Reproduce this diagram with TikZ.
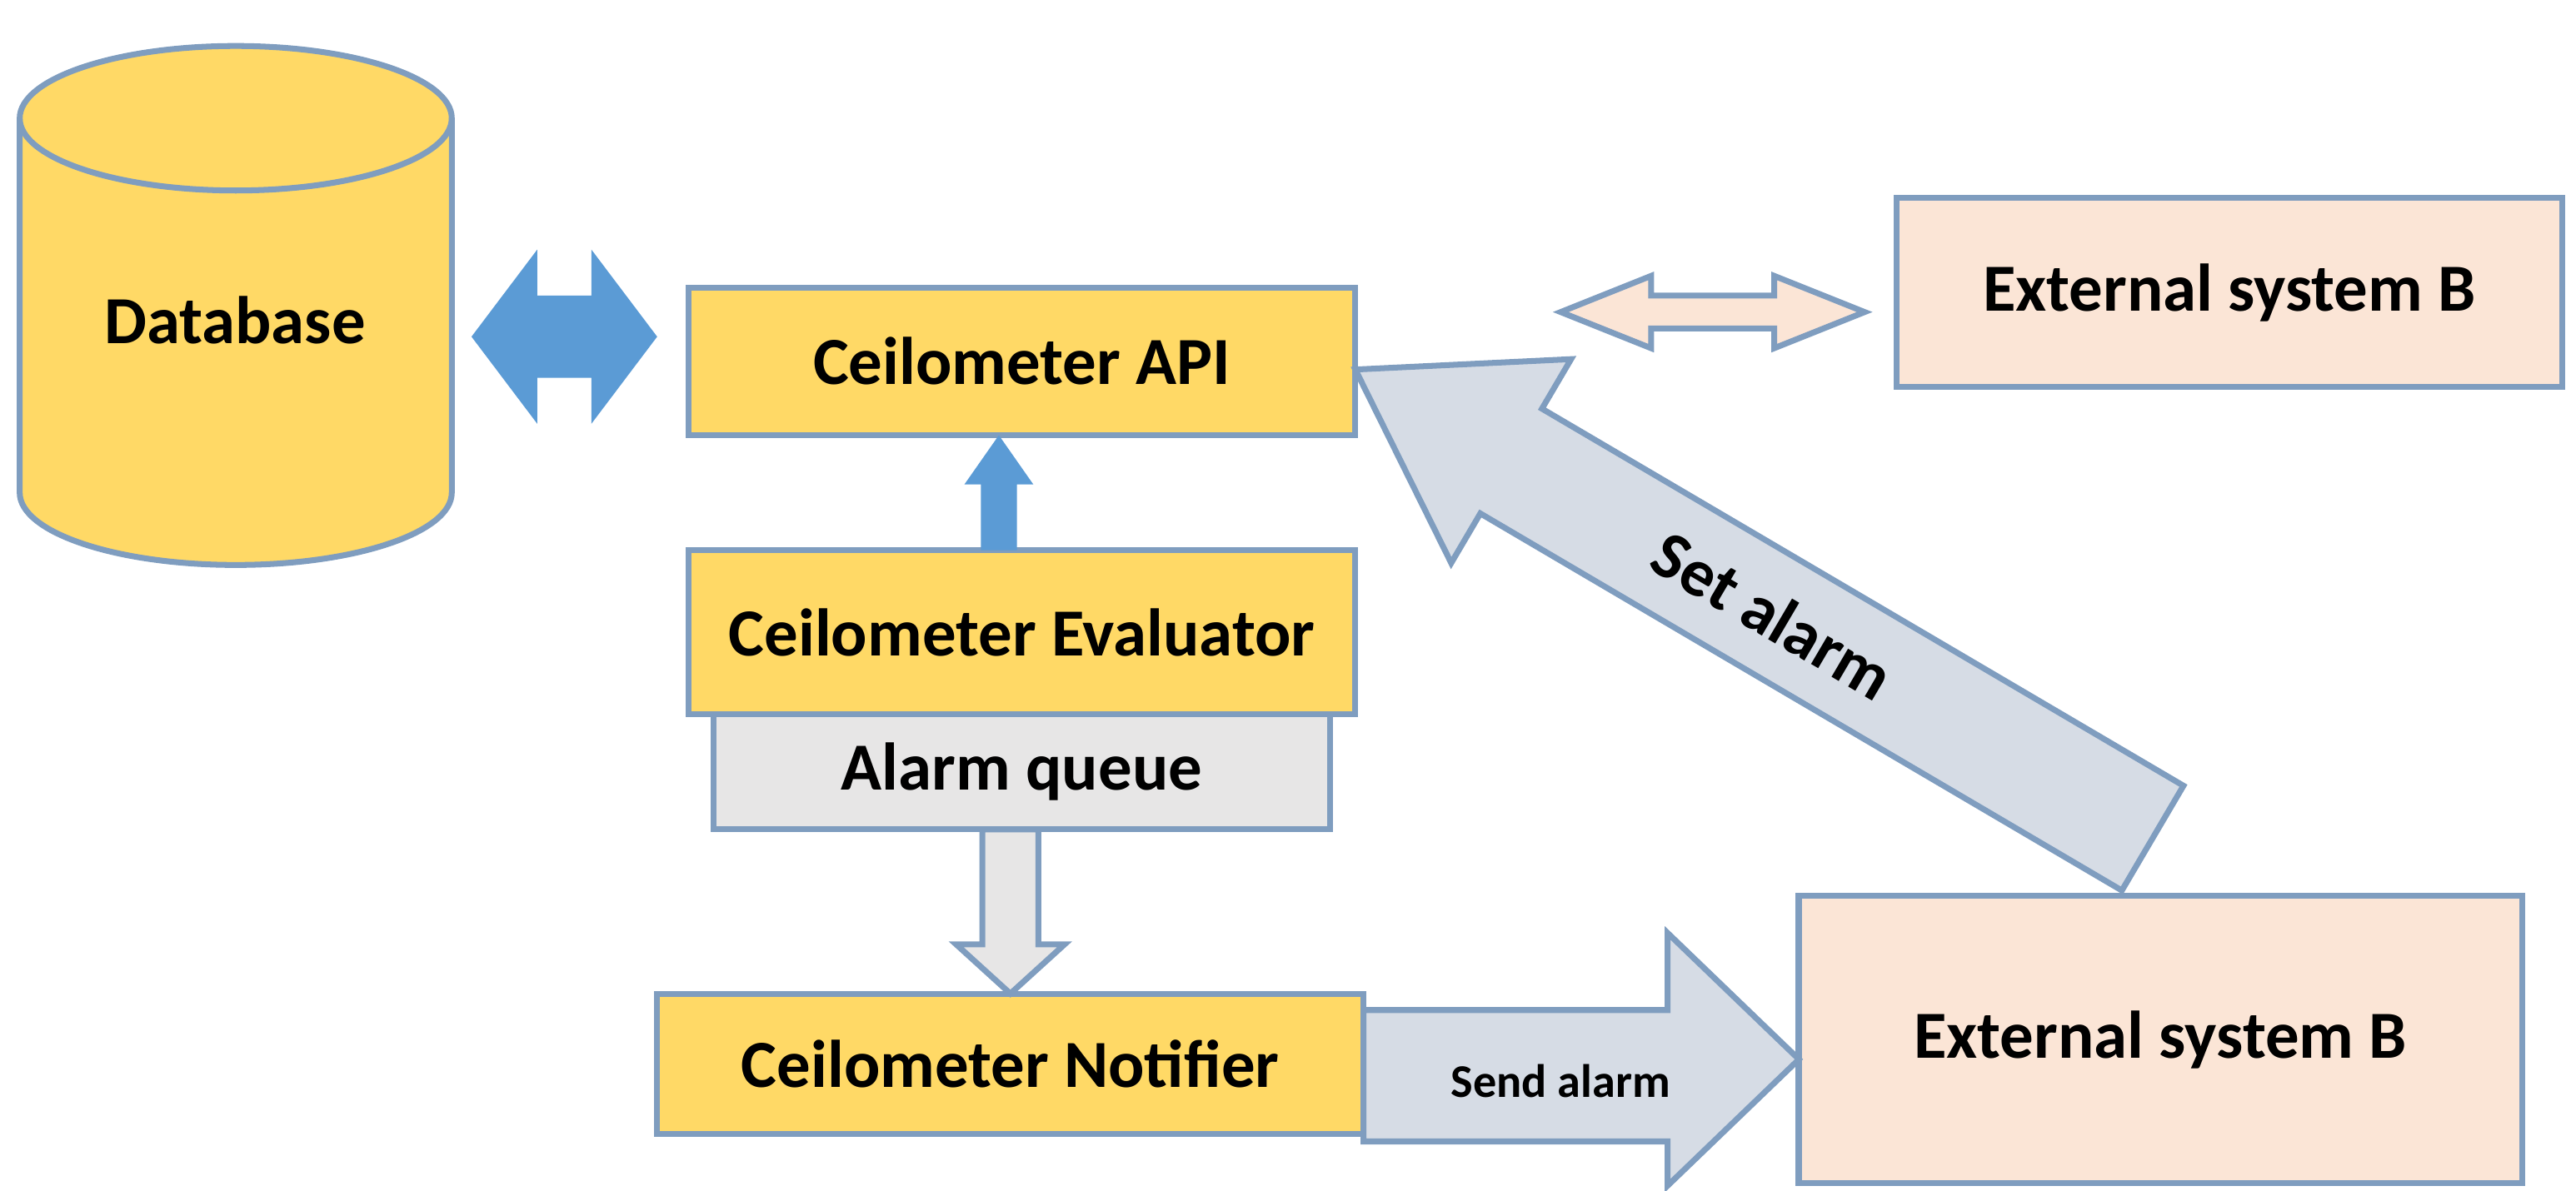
\documentclass[tikz,border=0pt]{standalone}
\usepackage{fontspec}
\setmainfont{Carlito}
\definecolor{yel}{HTML}{FFD966}
\definecolor{peach}{HTML}{FBE5D6}
\definecolor{blu}{HTML}{5B9BD5}
\definecolor{gry}{HTML}{E7E6E6}
\definecolor{lblu}{HTML}{D6DCE5}
\definecolor{edge}{HTML}{7F9DBF}
\begin{document}
\begin{tikzpicture}[x=0.01972cm,y=-0.01972cm,
  box/.style={draw=edge,line width=2pt,fill=yel,font=\bfseries\fontsize{23}{27}\selectfont,inner sep=0},
  ext/.style={box,fill=peach},
  arr/.style={draw=edge,line width=2pt}]
\useasboundingbox (0,0) rectangle (1568,725);
% database
\draw[arr,fill=yel] (12,72) -- (12,300) arc[start angle=180,end angle=0,x radius=131.5,y radius=44] -- (275,72) arc[start angle=0,end angle=-180,x radius=131.5,y radius=44];
\draw[arr] (12,72) arc[start angle=180,end angle=0,x radius=131.5,y radius=44];
\node[font=\bfseries\fontsize{23}{27}\selectfont] (db) at (143,195) {Database};
\node[box,minimum width=7.99cm,minimum height=1.77cm] (api) at (622,220) {Ceilometer API};
\node[box,minimum width=7.99cm,minimum height=1.97cm] (eva) at (622,385) {Ceilometer Evaluator};
\node[box,fill=gry,minimum width=7.40cm,minimum height=1.38cm] (q) at (622,470) {Alarm queue};
\node[box,minimum width=8.48cm,minimum height=1.68cm] (not) at (615,648) {Ceilometer Notifier};
\node[ext,minimum width=7.99cm,minimum height=2.27cm] (e1) at (1357,178) {External system B};
\node[ext,minimum width=8.68cm,minimum height=3.45cm] (e2) at (1315,633) {External system B};
% db <-> api
\fill[blu] (287,205) -- (327,152) -- (327,180) -- (360,180) -- (360,152) -- (400,205) -- (360,258) -- (360,230) -- (327,230) -- (327,258) -- cycle;
% up arrow
\fill[blu] (597,335) -- (597,295) -- (587,295) -- (608,265) -- (629,295) -- (619,295) -- (619,335) -- cycle;
% down arrow
\draw[arr,fill=gry] (598,505) -- (598,575) -- (582,575) -- (615,605) -- (648,575) -- (632,575) -- (632,505) -- cycle;
% peach double arrow
\draw[arr,fill=peach] (950,190) -- (1005,168) -- (1005,180) -- (1080,180) -- (1080,168) -- (1135,190) -- (1080,212) -- (1080,200) -- (1005,200) -- (1005,212) -- cycle;
% send alarm
\draw[arr,fill=lblu] (830,615) -- (1015,615) -- (1015,568) -- (1095,645) -- (1015,722) -- (1015,695) -- (830,695) -- cycle;
\node[font=\bfseries\fontsize{16}{19}\selectfont] (sl) at (950,658) {Send alarm};
% set alarm
\begin{scope}[shift={(825,225)},rotate=-30.45]
\draw[arr,fill=lblu] (0,0) -- (110,-72) -- (110,-37) -- (563,-37) -- (563,37) -- (110,37) -- (110,72) -- cycle;
\coordinate (sa) at (295,0);
\end{scope}
\node[font=\bfseries\fontsize{23}{27}\selectfont,rotate=-30.45] (sal) at (sa) {Set alarm};
\end{tikzpicture}
\end{document}
